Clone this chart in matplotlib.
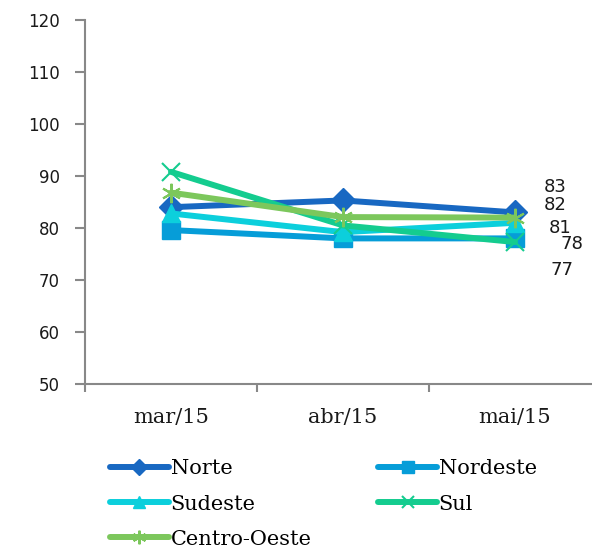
import matplotlib.pyplot as plt

# categorias e séries
meses = ['mar/15', 'abr/15', 'mai/15']
norte = [84.0, 85.3, 83.0]
nordeste = [79.6, 78.0, 78.0]
sudeste = [82.8, 79.2, 81.0]
sul = [90.8, 80.5, 77.3]
centro_oeste = [86.8, 82.1, 82.0]

series = [
    ('Norte', norte, '#1868c2', 'D', 12),
    ('Nordeste', nordeste, '#069dd8', 's', 13),
    ('Sudeste', sudeste, '#0ccfdc', '^', 13),
    ('Sul', sul, '#14cc8f', 'x', 13),
    ('Centro-Oeste', centro_oeste, '#7cc75c', (6, 2, 0), 14),
]
# deslocamento (px) dos rótulos do último ponto
label_offsets = {'Norte': (40, 25), 'Nordeste': (57, -6), 'Sudeste': (45, -5),
                 'Sul': (47, -28), 'Centro-Oeste': (40, 13)}

fig = plt.figure(figsize=(5.92, 5.48), dpi=100)
ax = fig.add_axes([85 / 592, 1 - 384 / 548, 516 / 592, 364 / 548])

x = range(len(meses))
handles = {}
for nome, vals, cor, mk, ms in series:
    h, = ax.plot(x, vals, color=cor, lw=4.3, marker=mk, markersize=ms,
                 markeredgewidth=1.5 if mk in ('x', (6, 2, 0)) else 1,
                 markeredgecolor=cor, markerfacecolor=cor, label=nome,
                 solid_capstyle='round', clip_on=False)
    handles[nome] = h
    dx, dy = label_offsets[nome]
    ax.annotate(f'{vals[-1]:.0f}', (2, vals[-1]), xytext=(dx, dy),
                textcoords='offset pixels', ha='center', va='center',
                fontsize=13, color='#1a1a1a', annotation_clip=False)

ax.set_xlim(-0.5, 2.5)
ax.set_ylim(50, 120)
ax.set_yticks(range(50, 121, 10))
ax.set_xticks(list(x))
ax.set_xticklabels(meses, family='DejaVu Serif', fontsize=15, color='#1a1a1a')
ax.set_xticks([-0.5, 0.5, 1.5, 2.5], minor=True)
ax.tick_params(axis='x', which='major', length=0, pad=17)
ax.tick_params(axis='x', which='minor', length=6, width=1.5, color='#888888', direction='out')
ax.tick_params(axis='y', length=7, width=1.5, color='#888888', direction='out',
               pad=11, labelsize=12, labelcolor='#1a1a1a')

for s in ('top', 'right'):
    ax.spines[s].set_visible(False)
for s in ('left', 'bottom'):
    ax.spines[s].set_color('#888888')
    ax.spines[s].set_linewidth(1.5)

# legenda preenchida por linhas: Norte/Nordeste, Sudeste/Sul, Centro-Oeste
ordem = ['Norte', 'Sudeste', 'Centro-Oeste', 'Nordeste', 'Sul']
fig.legend([handles[n] for n in ordem], ordem,
           loc='upper left', bbox_to_anchor=(104 / 592, 1 - 453 / 548),
           ncol=2, frameon=False, handlelength=2.8, handletextpad=0.1,
           columnspacing=3.2, labelspacing=0.78, markerscale=0.7,
           borderaxespad=0, borderpad=0.3,
           prop={'family': 'DejaVu Serif', 'size': 15})

fig.savefig('out.png', dpi=100)
